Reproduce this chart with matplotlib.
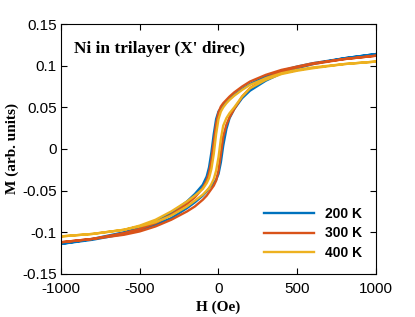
import matplotlib
matplotlib.use("Agg")
import matplotlib.pyplot as plt

# field grid (Oe), descending sweep; ascending sweep uses it reversed
H_down = [1000, 800, 600, 500, 400, 300, 200, 150, 100, 70, 50, 30, 15, 0,
          -15, -30, -45, -60, -75, -100, -150, -200, -300, -400, -500, -600, -800, -1000]
H_up = H_down[::-1]

# 200 K
M200_down = [0.114, 0.109, 0.103, 0.099, 0.094, 0.087, 0.078, 0.072, 0.065, 0.060, 0.056, 0.052, 0.049, 0.045,
             0.036, 0.018, -0.004, -0.022, -0.033, -0.043, -0.054, -0.063, -0.077, -0.087, -0.094, -0.100, -0.108, -0.114]
M200_up = [-0.114, -0.109, -0.102, -0.097, -0.091, -0.083, -0.071, -0.064, -0.056, -0.051, -0.047, -0.044, -0.041, -0.037,
           -0.030, -0.016, 0.004, 0.024, 0.037, 0.048, 0.061, 0.070, 0.082, 0.091, 0.097, 0.102, 0.109, 0.114]

# 300 K
M300_down = [0.112, 0.108, 0.103, 0.099, 0.095, 0.089, 0.081, 0.075, 0.068, 0.063, 0.059, 0.055, 0.051, 0.044,
             0.030, 0.008, -0.014, -0.029, -0.038, -0.047, -0.058, -0.066, -0.079, -0.089, -0.096, -0.101, -0.108, -0.112]
M300_up = [-0.112, -0.108, -0.103, -0.099, -0.093, -0.085, -0.075, -0.069, -0.061, -0.056, -0.052, -0.048, -0.044, -0.038,
           -0.026, -0.006, 0.015, 0.029, 0.038, 0.048, 0.063, 0.073, 0.085, 0.093, 0.098, 0.102, 0.108, 0.112]

# 400 K
M400_down = [0.105, 0.102, 0.098, 0.095, 0.091, 0.085, 0.077, 0.071, 0.064, 0.059, 0.055, 0.050, 0.045, 0.036,
             0.018, -0.006, -0.024, -0.035, -0.041, -0.048, -0.056, -0.063, -0.075, -0.085, -0.092, -0.097, -0.102, -0.105]
M400_up = [-0.105, -0.102, -0.097, -0.093, -0.088, -0.080, -0.069, -0.062, -0.055, -0.050, -0.047, -0.042, -0.036, -0.026,
           -0.010, 0.012, 0.028, 0.037, 0.043, 0.050, 0.063, 0.073, 0.083, 0.090, 0.094, 0.097, 0.102, 0.105]

labels = ["200 K", "300 K", "400 K"]
colors = ["#0072BD", "#D95319", "#EDB120"]

plt.rcParams['font.family'] = ['Liberation Sans', 'DejaVu Sans']
plt.rcParams['axes.unicode_minus'] = False

fig = plt.figure(figsize=(4.15, 3.17), dpi=100)
ax = fig.add_axes([0.147, 0.136, 0.759, 0.788])

loops = [(M200_down, M200_up), (M300_down, M300_up), (M400_down, M400_up)]
for (md, mu), lab, c in zip(loops, labels, colors):
    ax.plot(H_down + H_up, md + mu, color=c, lw=1.7, label=lab)

ax.set_xlim(-1000, 1000)
ax.set_ylim(-0.15, 0.15)
ax.set_xticks([-1000, -500, 0, 500, 1000])
ax.set_yticks([-0.15, -0.1, -0.05, 0, 0.05, 0.1, 0.15])
ax.set_yticklabels(["-0.15", "-0.1", "-0.05", "0", "0.05", "0.1", "0.15"])
ax.tick_params(direction='in', top=True, right=True, labelsize=11, length=4, width=0.8)
ax.tick_params(axis='x', pad=6)
ax.tick_params(axis='y', pad=3)
for s in ax.spines.values():
    s.set_linewidth(0.8)

ax.set_xlabel("H (Oe)", family='Liberation Serif', fontweight='bold', fontsize=11, labelpad=3)
ax.set_ylabel("M (arb. units)", family='Liberation Serif', fontweight='bold', fontsize=11, labelpad=2)
ax.text(0.04, 0.9, "Ni in trilayer (X' direc)", transform=ax.transAxes,
        family='Liberation Serif', fontweight='bold', fontsize=12.5, va='center')

leg = ax.legend(loc='lower right', frameon=False, handlelength=3.6,
                prop={'weight': 'bold', 'size': 10}, borderaxespad=0.6, labelspacing=0.4)

plt.savefig("out.png", dpi=100)
